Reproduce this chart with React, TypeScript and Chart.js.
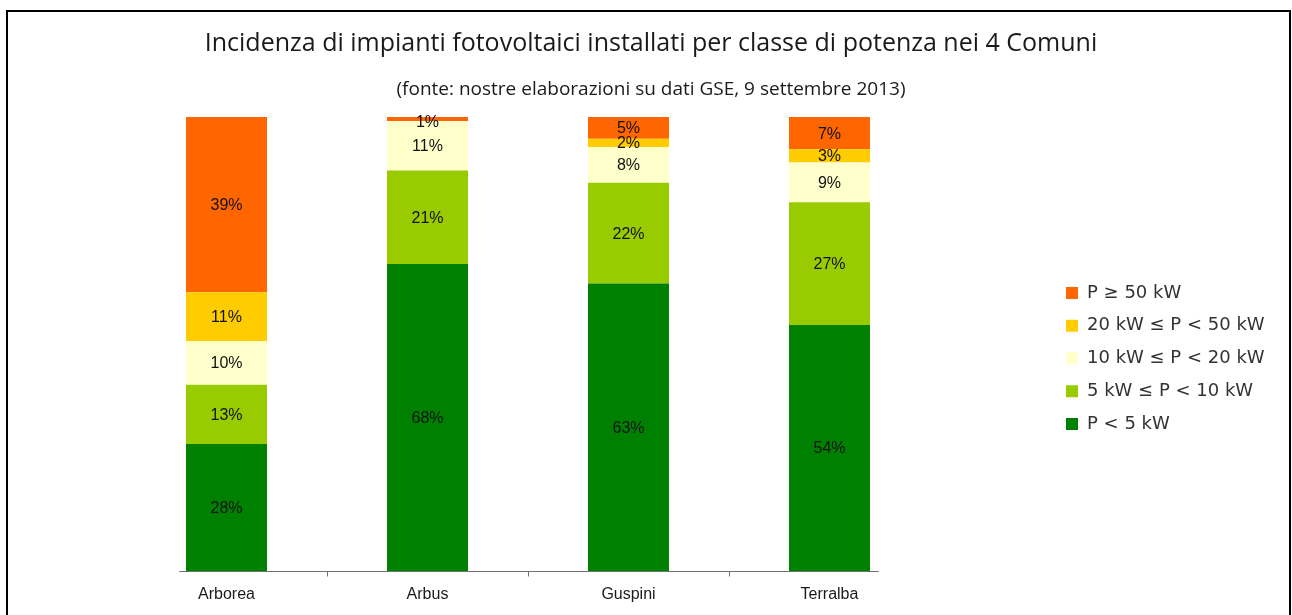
import React, { useEffect, useRef } from "react";
import { Chart, registerables } from "chart.js";

Chart.register(...registerables);

const categories = ["Arborea", "Arbus", "Guspini", "Terralba"];
const seriesNames = [
  "P < 5 kW",
  "5 kW \u2264 P < 10 kW",
  "10 kW \u2264 P < 20 kW",
  "20 kW \u2264 P < 50 kW",
  "P \u2265 50 kW",
];
const seriesColors = ["#008000", "#99CC00", "#FFFFCC", "#FFCC00", "#FF6600"];
const pLess5 = [28.0, 67.6, 63.3, 54.2];
const p5to10 = [13.0, 20.6, 22.2, 27.0];
const p10to20 = [9.6, 10.9, 7.9, 8.8];
const p20to50 = [10.8, 0, 1.8, 2.9];
const pOver50 = [38.6, 0.9, 4.8, 7.1];
const seriesValues = [pLess5, p5to10, p10to20, p20to50, pOver50];

const titleText = "Incidenza di impianti fotovoltaici installati per classe di potenza nei 4 Comuni";
const subtitleText = "(fonte: nostre elaborazioni su dati GSE, 9 settembre 2013)";

const framePlugin = {
  id: "frame",
  beforeDraw(chart: any) {
    const ctx = chart.ctx;
    ctx.save();
    ctx.fillStyle = "#ffffff";
    ctx.fillRect(0, 0, chart.width, chart.height);
    ctx.strokeStyle = "#000000";
    ctx.lineWidth = 2;
    ctx.strokeRect(7, 11, chart.width - 9, chart.height + 20);
    ctx.restore();
  },
};

const axisPlugin = {
  id: "customAxis",
  afterDatasetsDraw(chart: any) {
    const ctx = chart.ctx;
    const xs = chart.scales.x;
    const n = categories.length;
    const w = xs.getPixelForValue(1) - xs.getPixelForValue(0);
    const y = Math.round(chart.chartArea.bottom) + 0.5;
    const x0 = xs.getPixelForValue(0) - 0.235 * w;
    const x1 = xs.getPixelForValue(n - 1) + 0.245 * w;
    ctx.save();
    ctx.strokeStyle = "#707070";
    ctx.lineWidth = 1;
    ctx.beginPath();
    ctx.moveTo(x0, y);
    ctx.lineTo(x1, y);
    for (let i = 0; i < n - 1; i++) {
      const tx = Math.round((xs.getPixelForValue(i) + xs.getPixelForValue(i + 1)) / 2) + 0.5;
      ctx.moveTo(tx, y);
      ctx.lineTo(tx, y + 5);
    }
    ctx.stroke();
    ctx.restore();
  },
};

const labelPlugin = {
  id: "segLabels",
  afterDatasetsDraw(chart: any) {
    const ctx = chart.ctx;
    ctx.save();
    ctx.font = "16px 'Liberation Sans', Arial, sans-serif";
    ctx.fillStyle = "#111111";
    ctx.textAlign = "center";
    ctx.textBaseline = "middle";
    chart.data.datasets.forEach((ds: any, di: number) => {
      const meta = chart.getDatasetMeta(di);
      meta.data.forEach((el: any, i: number) => {
        const v = ds.data[i];
        if (!v) return;
        const p = el.getProps(["x", "y", "base"], true);
        let cy = (p.y + p.base) / 2;
        cy = Math.max(cy, chart.chartArea.top + 5);
        ctx.fillText(Math.round(v) + "%", p.x, cy + 1);
      });
    });
    ctx.restore();
  },
};

export default function App() {
  const ref = useRef<HTMLCanvasElement | null>(null);
  useEffect(() => {
    if (!ref.current) return;
    Chart.defaults.font.family = "'Liberation Sans', Arial, sans-serif";
    const chart = new Chart(ref.current, {
      type: "bar",
      data: {
        labels: categories,
        datasets: seriesNames.map((name, i) => ({
          label: name,
          data: seriesValues[i],
          backgroundColor: seriesColors[i],
          borderWidth: 0,
          categoryPercentage: 1,
          barPercentage: 0.403,
        })),
      },
      options: {
        responsive: false,
        animation: false,
        layout: { padding: { left: 30, right: 20, top: 0, bottom: -4 } },
        plugins: {
          title: {
            display: true,
            text: titleText,
            color: "#1a1a1a",
            font: { family: "'Open Sans', sans-serif", size: 25, weight: "normal", lineHeight: 1.2 },
            padding: { top: 29.3, bottom: 0 },
          },
          subtitle: {
            display: true,
            text: subtitleText,
            color: "#1a1a1a",
            font: { family: "'Open Sans', sans-serif", size: 19, weight: "normal", lineHeight: 1.2 },
            padding: { top: 19.1, bottom: 15.8 },
          },
          legend: {
            position: "right",
            fullSize: false,
            reverse: true,
            maxWidth: 220.75,
            title: { display: true, text: " ", font: { size: 10, lineHeight: 1 }, padding: { top: 19, bottom: 0 } },
            labels: {
              boxWidth: 12,
              boxHeight: 12,
              padding: 14.75,
              color: "#333333",
              font: { family: "'DejaVu Sans', sans-serif", size: 18 },
            },
          },
          tooltip: { enabled: false },
        },
        scales: {
          x: {
            stacked: true,
            grid: { display: false, drawTicks: false },
            border: { display: false },
            ticks: { color: "#1a1a1a", font: { size: 16, lineHeight: 0.8 }, padding: 17.6 },
          },
          y: {
            stacked: true,
            display: false,
            min: 0,
            max: 100,
          },
          spacerLeft: {
            position: "left",
            display: true,
            grid: { display: false, drawTicks: false },
            border: { display: false },
            ticks: { display: false },
            afterFit: (s: any) => {
              s.width = 96;
            },
          },
          spacer: {
            position: "right",
            display: true,
            grid: { display: false, drawTicks: false },
            border: { display: false },
            ticks: { display: false },
            afterFit: (s: any) => {
              s.width = 121.25;
            },
          },
        },
      } as any,
      plugins: [framePlugin, axisPlugin, labelPlugin],
    });
    return () => chart.destroy();
  }, []);
  return (
    <div style={{ position: "absolute", left: 0, top: 0, width: 1292, height: 615 }}>
      <canvas ref={ref} width={1292} height={615} style={{ display: "block" }} />
    </div>
  );
}
